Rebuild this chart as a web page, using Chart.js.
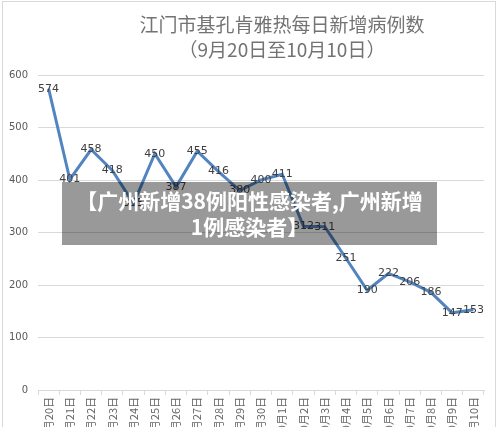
<!DOCTYPE html>
<html>
<head>
<meta charset="utf-8">
<script src="https://cdn.jsdelivr.net/npm/chart.js@4.4.1/dist/chart.umd.min.js"></script>
<style>
  html, body { margin: 0; padding: 0; background: #fff; overflow: hidden; }
  #wrap { position: relative; width: 500px; height: 427px; overflow: hidden; }
  #frame { position: absolute; left: 2px; top: 1px; width: 494px; height: 440px; border: 1px solid #d9d9d9; box-sizing: border-box; }
  #chart { position: absolute; left: 0; top: 0; }
  .title { position: absolute; left: 0; width: 564px; text-align: center; color: #737373;
           font-family: "Noto Sans CJK SC", sans-serif; font-size: 19px; line-height: 24px; }
  #banner { position: absolute; left: 62px; top: 182px; width: 375px; height: 63px;
            background: rgba(0, 0, 0, 0.4); color: #fff; text-align: center;
            font-family: "Noto Sans CJK SC", sans-serif; font-weight: bold; font-size: 21px; line-height: 26px;
            padding-top: 5px; box-sizing: border-box; white-space: nowrap; }
</style>
</head>
<body>
<div id="wrap">
  <div id="frame"></div>
  <canvas id="chart" width="500" height="462"></canvas>
  <div class="title" style="top: 12px;">江门市基孔肯雅热每日新增病例数</div>
  <div class="title" style="top: 37px;">（9月20日至10月10日）</div>
  <div id="banner">【广州新增38例阳性感染者,广州新增<br>1例感染者】</div>
</div>
<script>
'use strict'

const days = ['9月20日','9月21日','9月22日','9月23日','9月24日','9月25日','9月26日',
              '9月27日','9月28日','9月29日','9月30日','10月1日','10月2日','10月3日',
              '10月4日','10月5日','10月6日','10月7日','10月8日','10月9日','10月10日'];
const newCases = [574,401,458,418,355,450,387,455,416,380,400,411,312,311,251,190,222,206,186,147,153];
const yTicks = [0,100,200,300,400,500,600];

const pointLabels = {
    id: 'pointLabels',
    afterDatasetsDraw(chart) {
        const ctx = chart.ctx;
        const meta = chart.getDatasetMeta(0);
        ctx.save();
        ctx.fillStyle = '#404040';
        ctx.font = '11px "DejaVu Sans", sans-serif';
        ctx.textAlign = 'center';
        ctx.textBaseline = 'middle';
        meta.data.forEach((pt, i) => {
            ctx.fillText(String(newCases[i]), pt.x, pt.y);
        });
        ctx.restore();
    }
};

const chart = new Chart(document.getElementById('chart'), {
    type: 'line',
    data: {
        labels: days,
        datasets: [{
            data: newCases,
            borderColor: '#5285c0',
            borderWidth: 3,
            pointRadius: 0,
            tension: 0,
            fill: false
        }]
    },
    options: {
        responsive: false,
        animation: false,
        layout: { padding: { top: 75, right: 16, left: 0, bottom: 0 } },
        plugins: { legend: { display: false }, title: { display: false }, tooltip: { enabled: false } },
        scales: {
            x: {
                offset: true,
                grid: { offset: true, drawOnChartArea: false, drawTicks: true, tickLength: 5, color: '#d9d9d9' },
                border: { color: '#d9d9d9' },
                ticks: {
                    autoSkip: false, minRotation: 90, maxRotation: 90, padding: 2,
                    color: '#666666', font: { size: 11, family: '"Noto Sans CJK SC", sans-serif' }
                },
                afterFit(scale) { scale.height = 72; }
            },
            y: {
                min: 0, max: 600,
                afterBuildTicks(scale) { scale.ticks = yTicks.map(v => ({ value: v })); },
                grid: { drawTicks: false, color: '#d9d9d9' },
                border: { display: false },
                ticks: { padding: 10, color: '#595959', font: { size: 10, family: '"DejaVu Sans", sans-serif' } },
                afterFit(scale) { scale.width = 38; }
            }
        }
    },
    plugins: [pointLabels]
});
</script>
</body>
</html>
